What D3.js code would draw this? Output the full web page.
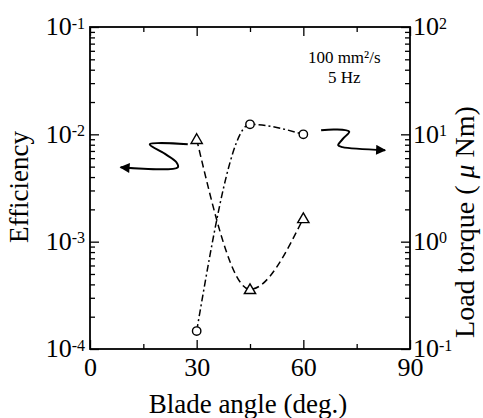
<!DOCTYPE html>
<html>
<head>
<meta charset="utf-8">
<script src="https://cdn.jsdelivr.net/npm/d3@7"></script>
<style>
  body { margin: 0; background: #fff; }
  svg text { font-family: "Liberation Serif", "Times New Roman", serif; fill: #000; }
</style>
</head>
<body>
<svg id="chart" width="483" height="418"></svg>
<script>
// blade angle (deg.)
var angles = [30, 45, 60];
// efficiency, left axis (triangles)
var efficiency = [0.0090, 0.00036, 0.00165];
// load torque in uN m, right axis (circles)
var torque = [0.147, 12.4, 10.0];

var xTicksMajor = [0, 30, 60, 90];
var xTicksMinor = [15, 45, 75];
var effDecades = [-4, -3, -2, -1];
var torqueDecades = [-1, 0, 1, 2];

var conditions = ['100 mm\u00b2/s', '5 Hz'];

// arrow annotations, in (angle, efficiency) units
var leftArrow = [[27.5, 0.00807], [16.8, 0.00807], [21.0, 0.0066], [24.3, 0.0055], [24.7, 0.00493], [8.6, 0.00493]];
var rightArrow = [[65.0, 0.0109], [69.0, 0.0111], [72.9, 0.0106], [71.3, 0.0092], [69.8, 0.0079], [71.0, 0.0076], [83.0, 0.00712]];

var margin = { top: 27, right: 73, bottom: 69, left: 90 };
var width = 483 - margin.left - margin.right,
  height = 418 - margin.top - margin.bottom;

var serif = '"Liberation Serif", "Times New Roman", serif';

var svg = d3.select('#chart');
var g = svg.append('g')
  .attr('transform', 'translate(' + margin.left + ',' + margin.top + ')');

var x = d3.scaleLinear().domain([0, 90]).range([0, width]);
var yL = d3.scaleLog().domain([1e-4, 1e-1]).range([height, 0]);
var yR = d3.scaleLog().domain([1e-1, 1e2]).range([height, 0]);

function minorLog(decades) {
  var out = [];
  decades.slice(0, -1).forEach(function (e) {
    for (var k = 2; k <= 9; k++) out.push(k * Math.pow(10, e));
  });
  return out;
}
function majorLog(decades) {
  return decades.map(function (e) { return Math.pow(10, e); });
}

// superscript labels 10^n
function powLabel(sel, anchor) {
  sel.each(function (d) {
    var t = d3.select(this).text('').attr('text-anchor', anchor);
    t.append('tspan').text('10');
    t.append('tspan')
      .attr('dy', '-0.42em')
      .style('font-size', '16px')
      .text(Math.round(Math.log10(d)));
  });
}

function styleAxis(a) {
  a.attr('font-family', serif);
  a.select('.domain').remove();
  a.selectAll('.tick line').attr('stroke', '#000').attr('stroke-width', 1.3);
  a.selectAll('.tick text').style('font-family', serif).style('font-size', '26px');
}

// bottom
g.append('g').attr('transform', 'translate(0,' + height + ')')
  .call(d3.axisBottom(x).tickValues(xTicksMajor).tickSize(-9).tickPadding(9).tickFormat(d3.format('d')))
  .call(styleAxis);
g.append('g').attr('transform', 'translate(0,' + height + ')')
  .call(d3.axisBottom(x).tickValues(xTicksMinor).tickSize(-5).tickFormat(''))
  .call(styleAxis);
// top
g.append('g')
  .call(d3.axisTop(x).tickValues(xTicksMajor).tickSize(-9).tickFormat(''))
  .call(styleAxis);
g.append('g')
  .call(d3.axisTop(x).tickValues(xTicksMinor).tickSize(-5).tickFormat(''))
  .call(styleAxis);

// left
g.append('g')
  .call(d3.axisLeft(yL).tickValues(majorLog(effDecades)).tickSize(-9).tickPadding(5))
  .call(styleAxis)
  .selectAll('.tick text')
  .attr('dy', '0.3em')
  .call(powLabel, 'end');
g.append('g')
  .call(d3.axisLeft(yL).tickValues(minorLog(effDecades)).tickSize(-5).tickFormat(''))
  .call(styleAxis);
// right
g.append('g').attr('transform', 'translate(' + width + ',0)')
  .call(d3.axisRight(yR).tickValues(majorLog(torqueDecades)).tickSize(-9).tickPadding(3))
  .call(styleAxis)
  .selectAll('.tick text')
  .attr('dy', '0.3em')
  .call(powLabel, 'start');
g.append('g').attr('transform', 'translate(' + width + ',0)')
  .call(d3.axisRight(yR).tickValues(minorLog(torqueDecades)).tickSize(-5).tickFormat(''))
  .call(styleAxis);

// frame
g.append('rect')
  .attr('width', width).attr('height', height)
  .attr('fill', 'none').attr('stroke', '#000').attr('stroke-width', 1.8);

// curves
var effLine = d3.line()
  .x(function (d) { return x(d[0]); })
  .y(function (d) { return yL(d[1]); })
  .curve(d3.curveMonotoneX);
var torqueLine = d3.line()
  .x(function (d) { return x(d[0]); })
  .y(function (d) { return yR(d[1]); })
  .curve(d3.curveMonotoneX);

var effData = d3.zip(angles, efficiency);
var torqueData = d3.zip(angles, torque);

g.append('path').datum(effData)
  .attr('d', effLine)
  .attr('fill', 'none').attr('stroke', '#000').attr('stroke-width', 1.5)
  .attr('stroke-dasharray', '7,4');
g.append('path').datum(torqueData)
  .attr('d', torqueLine)
  .attr('fill', 'none').attr('stroke', '#000').attr('stroke-width', 1.5)
  .attr('stroke-dasharray', '7,3,2,3');

var tri = d3.symbol().type(d3.symbolTriangle).size(55);
g.selectAll('path.tri').data(effData).enter()
  .append('path').attr('class', 'tri')
  .attr('d', tri)
  .attr('transform', function (d) { return 'translate(' + x(d[0]) + ',' + (yL(d[1]) + 1) + ')'; })
  .attr('fill', '#fff').attr('stroke', '#000').attr('stroke-width', 1.4);

g.selectAll('circle.pt').data(torqueData).enter()
  .append('circle').attr('class', 'pt')
  .attr('cx', function (d) { return x(d[0]); })
  .attr('cy', function (d) { return yR(d[1]); })
  .attr('r', 4.2)
  .attr('fill', '#fff').attr('stroke', '#000').attr('stroke-width', 1.4);

// arrows pointing to the axis each curve belongs to
var arrowLine = d3.line()
  .x(function (d) { return x(d[0]); })
  .y(function (d) { return yL(d[1]); })
  .curve(d3.curveCatmullRom);

svg.append('defs').append('marker')
  .attr('id', 'head')
  .attr('viewBox', '0 0 10 10')
  .attr('refX', 9).attr('refY', 5)
  .attr('markerWidth', 8).attr('markerHeight', 5)
  .attr('markerUnits', 'strokeWidth')
  .attr('orient', 'auto')
  .append('path').attr('d', 'M0,0L10,5L0,10z').attr('fill', '#000');

[leftArrow, rightArrow].forEach(function (pts) {
  g.append('path').datum(pts)
    .attr('d', arrowLine)
    .attr('fill', 'none').attr('stroke', '#000').attr('stroke-width', 2)
    .attr('marker-end', 'url(#head)');
});

// conditions
g.selectAll('text.cond').data(conditions).enter()
  .append('text').attr('class', 'cond')
  .attr('x', x(71.5))
  .attr('y', function (d, i) { return 36 + i * 20; })
  .attr('text-anchor', 'middle')
  .style('font-size', '17px')
  .text(function (d) { return d; });

// axis titles
svg.append('text')
  .attr('transform', 'translate(28,187) rotate(-90)')
  .attr('text-anchor', 'middle')
  .style('font-size', '27px')
  .text('Efficiency');

var rt = svg.append('text')
  .attr('transform', 'translate(474,222) rotate(-90)')
  .attr('text-anchor', 'middle')
  .style('font-size', '28px');
rt.append('tspan').text('Load torque ( ');
rt.append('tspan').style('font-style', 'italic').text('\u03bc');
rt.append('tspan').text(' Nm)');

svg.append('text')
  .attr('x', margin.left + x(45) - 2)
  .attr('y', 413)
  .attr('text-anchor', 'middle')
  .style('font-size', '27px')
  .text('Blade angle (deg.)');
</script>
</body>
</html>
